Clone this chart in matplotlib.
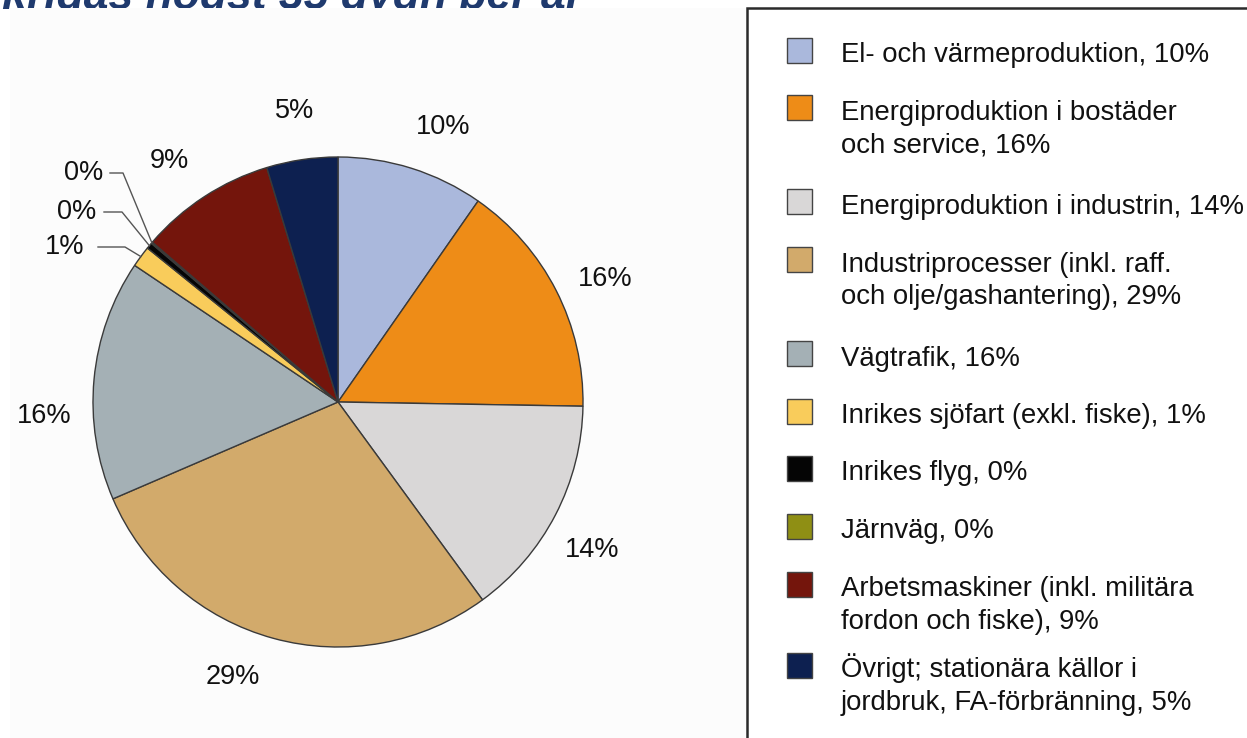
import numpy as np
import matplotlib.pyplot as plt
from matplotlib.patches import Rectangle

plt.rcParams['font.family'] = ['Liberation Sans', 'DejaVu Sans']

# data (share of emissions, %), clockwise from 12 o'clock
categories = [
    'El- och värmeproduktion, 10%',
    'Energiproduktion i bostäder\noch service, 16%',
    'Energiproduktion i industrin, 14%',
    'Industriprocesser (inkl. raff.\noch olje/gashantering), 29%',
    'Vägtrafik, 16%',
    'Inrikes sjöfart (exkl. fiske), 1%',
    'Inrikes flyg, 0%',
    'Järnväg, 0%',
    'Arbetsmaskiner (inkl. militära\nfordon och fiske), 9%',
    'Övrigt; stationära källor i\njordbruk, FA-förbränning, 5%',
]
values = [9.7, 15.6, 14.7, 28.6, 15.9, 1.4, 0.4, 0.1, 9.0, 4.7]
pct_labels = ['10%', '16%', '14%', '29%', '16%', '1%', '0%', '0%', '9%', '5%']
colors = ['#aab8dc', '#ee8c17', '#d9d7d7', '#d2aa6b', '#a4b0b5',
          '#f9cc5b', '#050505', '#8f8f14', '#74150c', '#0d2050']

W, H = 1247, 738
fig = plt.figure(figsize=(W / 100, H / 100), dpi=100)
ax = fig.add_axes([0, 0, 1, 1])


def py(y):
    # pixel row (from top) -> data y
    return H - y


# cut-off title at the top (mostly hidden behind the panel)
ax.text(583, py(9), 'får överskridas högst 35 dygn per år', ha='right',
        va='baseline', fontsize=32, fontweight='bold', fontstyle='italic',
        color='#1f3a6e', zorder=0)

# faint panel behind the pie
ax.add_patch(Rectangle((10, py(745)), 740, 737, facecolor='#fcfcfc',
                       edgecolor='none', zorder=0.5))

cx, cy, R = 338, py(402), 245
wedges, _ = ax.pie(values, colors=colors, startangle=90, counterclock=False,
                   center=(cx, cy), radius=R, frame=True,
                   wedgeprops=dict(edgecolor='#3a3a3a', linewidth=1.0))
ax.set_xlim(0, W)
ax.set_ylim(0, H)
ax.axis('off')

# small nudges of the label angle (degrees, clockwise)
nudge = [3.5, 2.3, 2.8, 5.6, -8.0, 0, 0, 0, -1.8, 0]
# leader lines for the tiny slices: text right edge, line start, elbow x, row
leaders = {5: (84, 98, 125, 247), 6: (96, 104, 122, 212),
           7: (103, 110, 123, 173)}
for i, w in enumerate(wedges):
    mid = np.deg2rad((w.theta1 + w.theta2) / 2)
    if i in leaders:
        tr, x0, xe, ly = leaders[i]
        ex, ey = cx + R * np.cos(mid), cy + R * np.sin(mid)
        ax.plot([x0, xe, ex], [py(ly), py(ly), ey], color='#555555',
                lw=1.0, zorder=5)
        ax.text(tr, py(ly), pct_labels[i], ha='right', va='center',
                fontsize=19.5, color='#111111')
        continue
    a = mid - np.deg2rad(nudge[i])
    tx, ty = cx + 1.2 * R * np.cos(a), cy + 1.2 * R * np.sin(a)
    ax.text(tx, ty, pct_labels[i], ha='center', va='center', fontsize=19.5,
            color='#111111')

# legend box (runs off the right and bottom edges)
ax.add_patch(Rectangle((747, py(760)), 540, 752, facecolor='white',
                       edgecolor='#2a2a2a', linewidth=1.8, zorder=1))
rows = [50, 107.5, 201.5, 259.5, 353.5, 411, 468, 526, 584, 665]
for c, lab, y in zip(colors, categories, rows):
    ax.add_patch(Rectangle((787, py(y) - 12.5), 25, 25, facecolor=c,
                           edgecolor='#444444', linewidth=1.0, zorder=2))
    for k, line in enumerate(lab.split('\n')):
        ax.text(841, py(y + 12 + 33 * k), line, ha='left', va='baseline',
                fontsize=19.8, color='#111111', zorder=3)

fig.savefig('out.png', dpi=100)
